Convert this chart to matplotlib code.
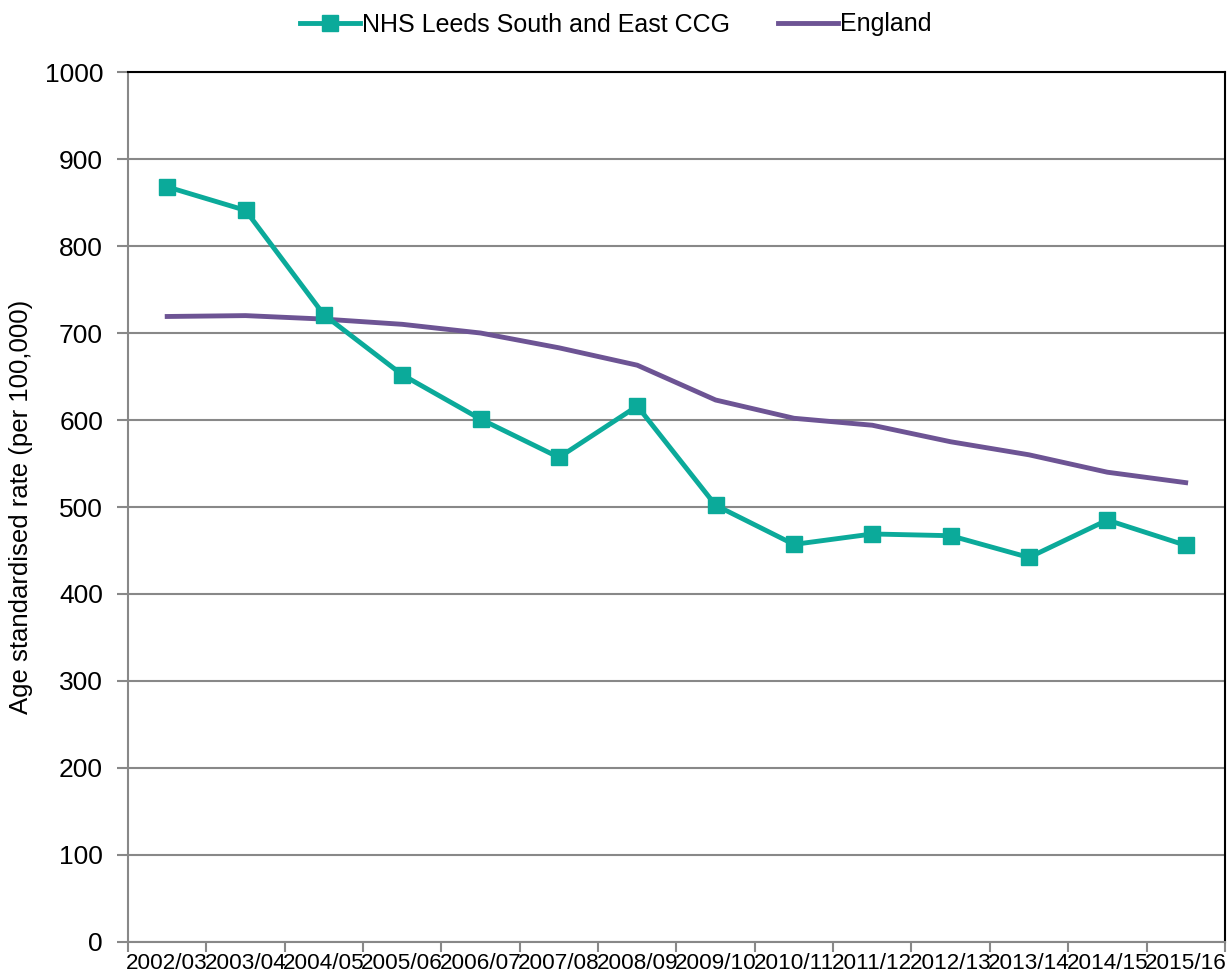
import numpy as np
import matplotlib.pyplot as plt

plt.rcParams['font.family'] = ['Liberation Sans', 'DejaVu Sans']

# Data
years = ['2002/03', '2003/04', '2004/05', '2005/06', '2006/07', '2007/08', '2008/09',
         '2009/10', '2010/11', '2011/12', '2012/13', '2013/14', '2014/15', '2015/16']
leeds_se = [868, 841, 721, 652, 601, 557, 616, 502, 457, 469, 467, 442, 485, 456]
england = [719, 720, 716, 710, 700, 683, 663, 623, 602, 594, 575, 560, 540, 528]

teal = '#0BAA9A'
purple = '#6D5494'
grey = '#888888'

fig = plt.figure(figsize=(12.31, 9.8), dpi=100)
ax = fig.add_axes([0.104, 0.0388, 0.891, 0.8877])

x = np.arange(len(years))
ax.plot(x, england, color=purple, lw=3.5, label='England', zorder=2)
ax.plot(x, leeds_se, color=teal, lw=3.5, marker='s', ms=11,
        label='NHS Leeds South and East CCG', zorder=3)

ax.set_xlim(-0.5, len(years) - 0.5)
ax.set_ylim(0, 1000)
ax.set_yticks(np.arange(0, 1001, 100))
ax.yaxis.grid(True, color=grey, lw=1.5)
ax.set_axisbelow(True)

# category labels between boundary ticks
ax.set_xticks(np.arange(-0.5, len(years), 1))
ax.set_xticklabels([])
ax.set_xticks(x, minor=True)
ax.set_xticklabels(years, minor=True, fontsize=16.2)
ax.tick_params(axis='x', which='minor', length=0, pad=8)
ax.tick_params(axis='x', which='major', length=7, width=1.5, color=grey)
ax.tick_params(axis='y', length=8, width=1.5, color=grey, labelsize=19, pad=10)

for s in ['left', 'bottom']:
    ax.spines[s].set_color(grey)
    ax.spines[s].set_linewidth(1.5)
for s in ['top', 'right']:
    ax.spines[s].set_color('black')
    ax.spines[s].set_linewidth(1.5)

ax.set_ylabel('Age standardised rate (per 100,000)', fontsize=18.5, labelpad=8)

handles, labels = ax.get_legend_handles_labels()
ax.legend(handles[::-1], labels[::-1], loc='upper center', bbox_to_anchor=(0.5, 1.0),
          bbox_transform=fig.transFigure, ncol=2, frameon=False, fontsize=18,
          handlelength=2.4, columnspacing=1.9, handletextpad=0.1, borderaxespad=0.1)

fig.savefig('out.png', dpi=100)
